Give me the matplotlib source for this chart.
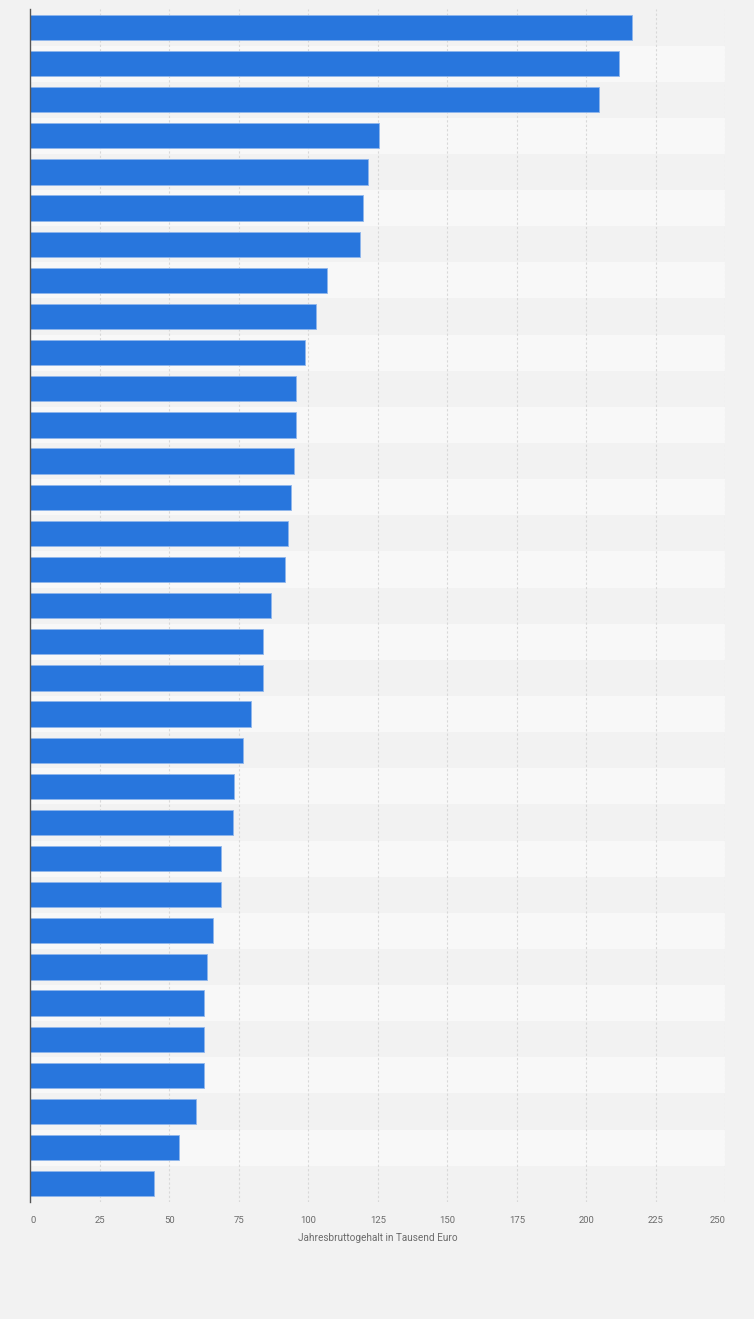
"""
Horizontal bar chart - Jahresbruttogehalt (Tausend Euro)
"""

import numpy as np
import matplotlib
matplotlib.use("Agg")
import matplotlib.pyplot as plt

# values read top to bottom (no category labels visible in the source)
gehalt = [216.5, 211.8, 204.4, 125.6, 121.6, 119.6, 118.6, 106.7, 102.7,
          98.8, 95.5, 95.5, 94.8, 93.7, 92.6, 91.5, 86.8, 83.6, 83.6, 79.6,
          76.7, 73.5, 72.8, 68.8, 68.8, 65.6, 63.8, 62.7, 62.7, 62.7, 59.8,
          53.7, 44.7]
x_ticks = [0, 25, 50, 75, 100, 125, 150, 175, 200, 225, 250]
x_label = "Jahresbruttogehalt in Tausend Euro"

BG = "#f2f2f2"
BAND = "#f8f8f8"
BAR = "#2876dd"

fig = plt.figure(figsize=(7.54, 13.19), dpi=100, facecolor=BG)
ax = fig.add_axes([0.0398, 0.0888, 0.9224, 0.9041])
ax.set_facecolor(BG)

n = len(gehalt)
y_pos = np.arange(n)

# alternating row bands
for i in y_pos:
    if i % 2 == 1:
        ax.axhspan(i - 0.5, i + 0.5, color=BAND, zorder=0, lw=0)

for t in x_ticks[1:]:
    ax.axvline(t, color="#d8d8d8", lw=0.8, ls=(0, (2, 2)), zorder=1)

ax.barh(y_pos, gehalt, height=0.7, color=BAR, edgecolor="#8fb6ec",
        linewidth=0.6, zorder=2)

ax.set_xlim(0, 250)
ax.set_ylim(n - 0.5, -0.5)
ax.set_yticks([])
ax.set_xticks(x_ticks)
ax.set_xticklabels([str(t) for t in x_ticks], fontsize=6.8, color="#6b6b6b",
                   family="Roboto")
ax.tick_params(axis="x", length=0, pad=10)
# keep the end labels inside the plot, as in the original
labels = ax.get_xticklabels()
labels[0].set_horizontalalignment("left")
labels[-1].set_horizontalalignment("right")
ax.set_xlabel(x_label, fontsize=7.2, color="#6b6b6b", family="Roboto",
              labelpad=6)

for side in ["top", "right", "bottom"]:
    ax.spines[side].set_visible(False)
ax.spines["left"].set_color("#555555")
ax.spines["left"].set_linewidth(1.0)
ax.spines["left"].set_zorder(3)

fig.savefig("out.png", dpi=100, facecolor=BG)
